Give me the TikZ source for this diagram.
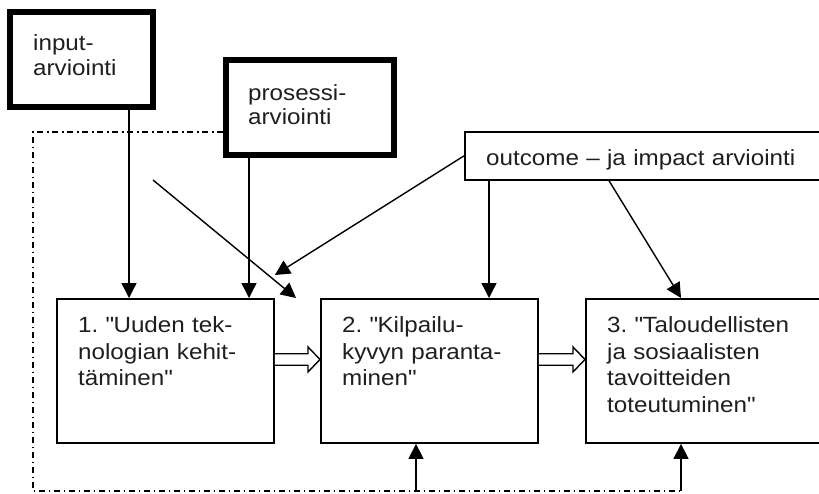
\documentclass[tikz,border=0pt]{standalone}
\usepackage{fontspec}
\setmainfont{Liberation Sans}[FakeStretch=1.1]
\usetikzlibrary{arrows.meta,calc}
\frenchspacing

\tikzset{
  stagebox/.style={draw, fill=white, line width=1.9pt, anchor=north west,
    inner sep=0pt, minimum height=144pt},
  evalbox/.style={draw, fill=white, line width=6pt, anchor=north west,
    inner sep=0pt, minimum height=95pt},
  outbox/.style={draw, fill=white, line width=1.7pt, anchor=north west,
    inner sep=0pt, minimum width=365pt, minimum height=48pt},
  txt/.style={anchor=base west, align=left, inner sep=0pt, text width=240pt,
    text=black!88, font=\fontsize{22}{26.7}\selectfont},
  arr/.style={line width=1.4pt, -{Triangle[length=15pt,width=15pt]}},
  frameline/.style={line width=1.3pt, dash pattern=on 6pt off 3.5pt on 1.5pt off 4pt},
  hollow/.style={draw, fill=white, line width=1.4pt, line join=miter}
}
\newcommand{\dq}{\textquotedbl}

\begin{document}
\begin{tikzpicture}[x=1pt,y=-1pt]
\clip (0,0) rectangle (819,493);
\fill[white] (0,0) rectangle (819,493);

% corners of the dash-dotted frame
\coordinate (ft) at (33,132);
\coordinate (fb) at (33,491);

% evaluation boxes
\node[evalbox, minimum width=143pt] (inp) at (7,9) {};
\node[evalbox, minimum width=168pt] (pro) at (223,57) {};
\node[outbox] (out) at (464,131) {};

% stage boxes
\node[stagebox, minimum width=217pt] (b1) at (56,298) {};
\node[stagebox, minimum width=217pt] (b2) at (320,298) {};
\node[stagebox, minimum width=244pt] (b3) at (585,298) {};

% frame, open at the top right
\coordinate (u2) at ([xshift=96pt]b2.south west);
\coordinate (u3) at ([xshift=96pt]b3.south west);
\draw[frameline] (pro.west |- ft) -- (ft) -- (fb) -- (u3 |- fb);

% texts
\node[txt, font=\fontsize{22}{25}\selectfont] (tinp) at ($(inp.north west)+(26,41)$) {input-\\arviointi};
\node[txt, font=\fontsize{22}{24}\selectfont] (tpro) at ($(pro.north west)+(25,43)$) {prosessi-\\arviointi};
\node[txt, text width=330pt] (tout) at ($(out.north west)+(22,34)$) {outcome – ja impact arviointi};
\node[txt] (t1) at ($(b1.north west)+(22,34.5)$) {1. \dq Uuden tek-\\nologian kehit-\\täminen\dq};
\node[txt] (t2) at ($(b2.north west)+(22,34.5)$) {2. \dq Kilpailu-\\kyvyn paranta-\\minen\dq};
\node[txt] (t3) at ($(b3.north west)+(22,34.5)$) {3. \dq Taloudellisten\\ja sosiaalisten\\tavoitteiden\\toteutuminen\dq};

% evaluation arrows
\draw[arr] ([xshift=47.5pt]inp.south) -- ([xshift=47.5pt]inp.south |- b1.north);
\draw[arr] ([xshift=-61pt]pro.south) -- ([xshift=-61pt]pro.south |- b1.north);
\coordinate (free) at (153,180);
\draw[arr] (free) -- ([xshift=-24pt]b2.north west);
\draw[arr] (out.west) -- ([yshift=23pt]b1.north east);
\draw[arr] ([xshift=25pt]out.south west) -- ([xshift=25pt]out.south west |- b2.north);
\draw[arr] ([xshift=145pt]out.south west) -- ([xshift=96pt]b3.north west);

% feedback arrows from the frame
\draw[arr] (u2 |- fb) -- (u2);
\draw[arr] (u3 |- fb) -- (u3);

% hollow arrows between stages
\coordinate (s1) at ([yshift=11.5pt]b1.east);
\coordinate (e1) at ([yshift=11.5pt]b2.west);
\draw[hollow] ($(s1)+(0,-5.75)$) -- ($(e1)+(-12,-5.75)$) -- ($(e1)+(-12,-12.5)$)
  -- (e1) -- ($(e1)+(-12,12.5)$) -- ($(e1)+(-12,5.75)$) -- ($(s1)+(0,5.75)$);
\coordinate (s2) at ([yshift=11.5pt]b2.east);
\coordinate (e2) at ([yshift=11.5pt]b3.west);
\draw[hollow] ($(s2)+(0,-5.75)$) -- ($(e2)+(-12,-5.75)$) -- ($(e2)+(-12,-12.5)$)
  -- (e2) -- ($(e2)+(-12,12.5)$) -- ($(e2)+(-12,5.75)$) -- ($(s2)+(0,5.75)$);
\end{tikzpicture}
\end{document}
